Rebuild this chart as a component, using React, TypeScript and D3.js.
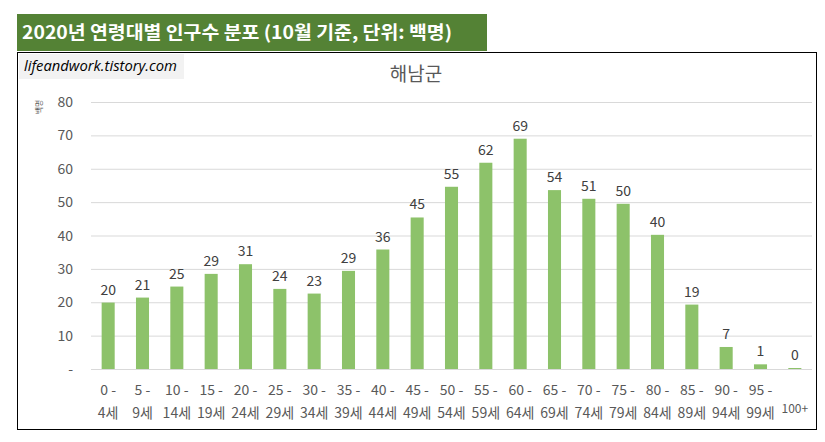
import React, { useEffect, useRef } from 'react';
import * as d3 from 'd3';

// 연령대 (두 줄 라벨)
const ageTop = ['0 -', '5 -', '10 -', '15 -', '20 -', '25 -', '30 -', '35 -', '40 -', '45 -', '50 -', '55 -', '60 -', '65 -', '70 -', '75 -', '80 -', '85 -', '90 -', '95 -', ''];
const ageBottom = ['4세', '9세', '14세', '19세', '24세', '29세', '34세', '39세', '44세', '49세', '54세', '59세', '64세', '69세', '74세', '79세', '84세', '89세', '94세', '99세', '100+'];
// 인구수 (백명)
const population = [19.9, 21.4, 24.7, 28.5, 31.4, 24.0, 22.6, 29.4, 35.8, 45.4, 54.6, 61.8, 69.0, 53.6, 51.0, 49.5, 40.2, 19.3, 6.6, 1.4, 0.3];
const yTicks = [0, 10, 20, 30, 40, 50, 60, 70, 80];

const FONT = '"Noto Sans CJK KR", "Noto Sans", sans-serif';

const App: React.FC = () => {
  const svgRef = useRef<SVGSVGElement>(null);

  useEffect(() => {
    if (!svgRef.current) return;
    const svg = d3.select(svgRef.current);
    svg.selectAll('*').remove();

    // Header bar
    svg.append('rect').attr('x', 17).attr('y', 14).attr('width', 470).attr('height', 37).attr('fill', '#548235');
    svg
      .append('text')
      .attr('x', 22)
      .attr('y', 39)
      .attr('fill', '#ffffff')
      .attr('textLength', 430)
      .attr('lengthAdjust', 'spacingAndGlyphs')
      .style('font-family', FONT)
      .style('font-weight', 'bold')
      .style('font-size', '18px')
      .text('2020년 연령대별 인구수 분포 (10월 기준, 단위: 백명)');

    // Chart frame
    svg.append('rect').attr('x', 17.5).attr('y', 52.5).attr('width', 799).attr('height', 377).attr('fill', '#ffffff').attr('stroke', '#000000').attr('stroke-width', 1);

    // Watermark
    svg.append('rect').attr('x', 19).attr('y', 54).attr('width', 165).attr('height', 25).attr('fill', '#f2f2f2');
    svg
      .append('text')
      .attr('x', 24)
      .attr('y', 71)
      .attr('fill', '#000000')
      .attr('textLength', 153)
      .attr('lengthAdjust', 'spacingAndGlyphs')
      .style('font-family', '"Open Sans", sans-serif')
      .style('font-style', 'italic')
      .style('font-size', '14px')
      .text('lifeandwork.tistory.com');

    // Chart title
    svg
      .append('text')
      .attr('x', 416)
      .attr('y', 81)
      .attr('text-anchor', 'middle')
      .attr('fill', '#595959')
      .style('font-family', FONT)
      .style('font-size', '19px')
      .text('해남군');

    const margin = { left: 91, right: 812, top: 102, bottom: 369 };

    const x = d3
      .scaleBand<number>()
      .domain(d3.range(population.length))
      .range([margin.left, margin.right])
      .paddingInner(0.62)
      .paddingOuter(0.31);

    const y = d3.scaleLinear().domain([0, 80]).range([margin.bottom, margin.top]);

    // Grid lines
    svg
      .append('g')
      .selectAll('line')
      .data(yTicks)
      .enter()
      .append('line')
      .attr('x1', margin.left)
      .attr('x2', margin.right)
      .attr('y1', (d) => y(d) + 0.5)
      .attr('y2', (d) => y(d) + 0.5)
      .attr('stroke', '#d9d9d9')
      .attr('stroke-width', 1);

    // Y-axis labels
    svg
      .append('g')
      .selectAll('text')
      .data(yTicks)
      .enter()
      .append('text')
      .attr('x', 73)
      .attr('y', (d) => y(d) + 5)
      .attr('text-anchor', 'end')
      .attr('fill', '#595959')
      .style('font-family', FONT)
      .style('font-size', '14px')
      .text((d) => (d === 0 ? '-' : String(d)));

    // Y-axis title
    svg
      .append('text')
      .attr('transform', 'translate(42,107) rotate(-90)')
      .attr('text-anchor', 'middle')
      .attr('fill', '#595959')
      .style('font-family', FONT)
      .style('font-size', '8px')
      .text('백명');

    // Bars
    svg
      .append('g')
      .selectAll('rect')
      .data(population)
      .enter()
      .append('rect')
      .attr('x', (_, i) => x(i) as number)
      .attr('y', (d) => y(d))
      .attr('width', x.bandwidth())
      .attr('height', (d) => y(0) - y(d))
      .attr('fill', '#8dc26a');

    // Data labels
    svg
      .append('g')
      .selectAll('text')
      .data(population)
      .enter()
      .append('text')
      .attr('x', (_, i) => (x(i) as number) + x.bandwidth() / 2)
      .attr('y', (d) => y(d) - 8)
      .attr('text-anchor', 'middle')
      .attr('fill', '#404040')
      .style('font-family', FONT)
      .style('font-size', '14px')
      .text((d) => d3.format('.0f')(d));

    // X-axis labels
    const xl = svg.append('g');
    ageTop.forEach((t, i) => {
      const cx = (x(i) as number) + x.bandwidth() / 2;
      if (t) {
        xl.append('text')
          .attr('x', cx)
          .attr('y', 395)
          .attr('text-anchor', 'middle')
          .attr('fill', '#595959')
          .style('font-family', FONT)
          .style('font-size', '14px')
          .text(t);
        xl.append('text')
          .attr('x', cx)
          .attr('y', 418)
          .attr('text-anchor', 'middle')
          .attr('fill', '#595959')
          .style('font-family', FONT)
          .style('font-size', '14px')
          .text(ageBottom[i]);
      } else {
        xl.append('text')
          .attr('x', cx)
          .attr('y', 413)
          .attr('text-anchor', 'middle')
          .attr('fill', '#595959')
          .style('font-family', FONT)
          .style('font-size', '12px')
          .text(ageBottom[i]);
      }
    });
  }, []);

  return (
    <div style={{ position: 'absolute', left: 0, top: 0 }}>
      <svg ref={svgRef} width={825} height={442} style={{ display: 'block', background: '#ffffff' }} />
    </div>
  );
};

export default App;
